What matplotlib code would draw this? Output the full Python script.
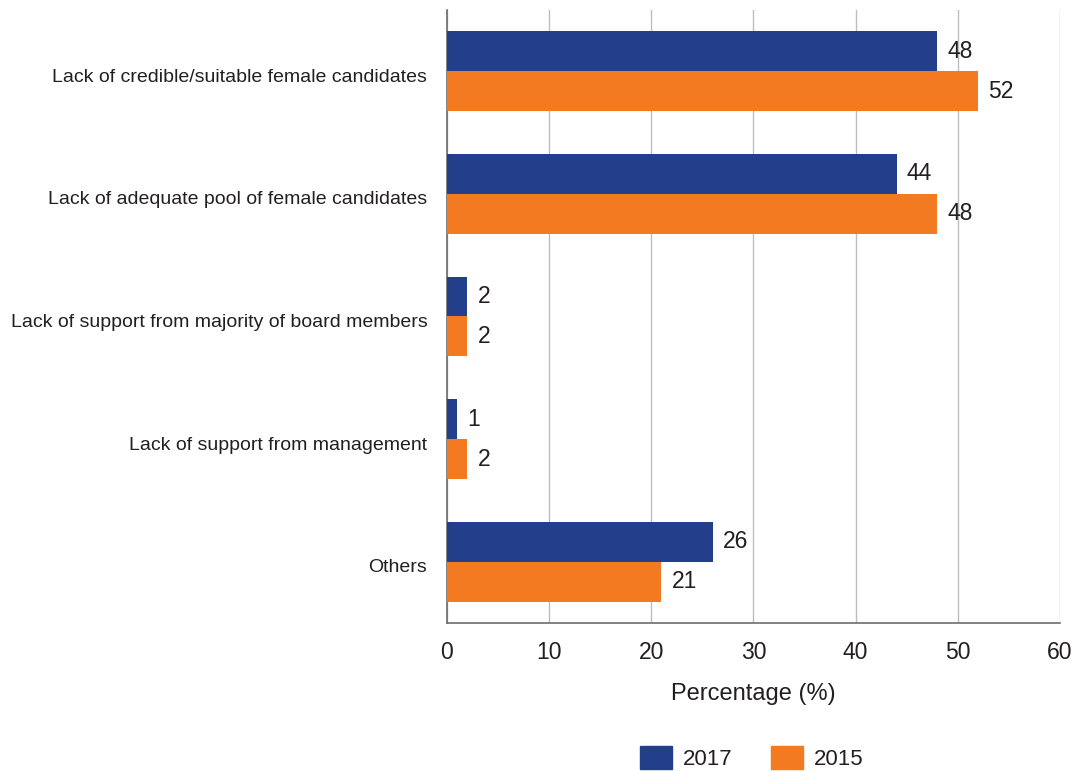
import matplotlib
matplotlib.use("Agg")
import matplotlib.pyplot as plt
import matplotlib.transforms as mtransforms
from matplotlib.patches import Patch

plt.rcParams['font.family'] = ['Liberation Sans', 'DejaVu Sans']

categories = [
    "Lack of credible/suitable female candidates",
    "Lack of adequate pool of female candidates",
    "Lack of support from majority of board members",
    "Lack of support from management",
    "Others",
]
values_2017 = [48, 44, 2, 1, 26]
values_2015 = [52, 48, 2, 2, 21]
series_labels = ["2017", "2015"]
x_ticks = [0, 10, 20, 30, 40, 50, 60]

blue = "#233E8B"
orange = "#F47A21"
text_color = "#231F20"

fig = plt.figure(figsize=(10.74, 7.71), dpi=100)
ax = fig.add_axes([0.416, 0.192, 0.571, 0.795])

h = 0.326
pos = list(range(len(categories)))
ax.barh([p - h / 2 for p in pos], values_2017, height=h, color=blue, zorder=3)
ax.barh([p + h / 2 for p in pos], values_2015, height=h, color=orange, zorder=3)

for p, v in zip(pos, values_2017):
    ax.text(v + 1.0, p - h / 2, f"{v}", va="center", ha="left",
            fontsize=16.5, color=text_color)
for p, v in zip(pos, values_2015):
    ax.text(v + 1.0, p + h / 2, f"{v}", va="center", ha="left",
            fontsize=16.5, color=text_color)

ax.set_ylim(4.5, -0.5)
ax.set_xlim(0, 60)
ax.set_yticks(pos)
ax.set_yticklabels(categories, fontsize=14, color=text_color)
ax.set_xticks(x_ticks)
ax.set_xticklabels([str(t) for t in x_ticks], fontsize=16.5, color=text_color)
ax.tick_params(axis="both", length=0)
ax.tick_params(axis="y", pad=14)
ax.tick_params(axis="x", pad=13)
ax.set_xlabel("Percentage (%)", fontsize=17, color=text_color, labelpad=14)

# nudge category labels slightly below the group centre
shift = mtransforms.ScaledTranslation(0, -4 / 100, fig.dpi_scale_trans)
for lbl in ax.get_yticklabels():
    lbl.set_transform(lbl.get_transform() + shift)

ax.grid(axis="x", color="#BDBDBD", linewidth=1, zorder=0)
for s in ("top", "right"):
    ax.spines[s].set_visible(False)
for s in ("left", "bottom"):
    ax.spines[s].set_color("#6D6D6D")
    ax.spines[s].set_linewidth(1.2)

handles = [Patch(color=blue, label=series_labels[0]),
           Patch(color=orange, label=series_labels[1])]
fig.legend(handles=handles, loc="center", bbox_to_anchor=(0.70, 0.017),
           ncol=2, frameon=False, fontsize=16, handlelength=1.44,
           handleheight=1.26, columnspacing=1.7, handletextpad=0.5,
           labelcolor=text_color)

fig.savefig("out.png", dpi=100)
